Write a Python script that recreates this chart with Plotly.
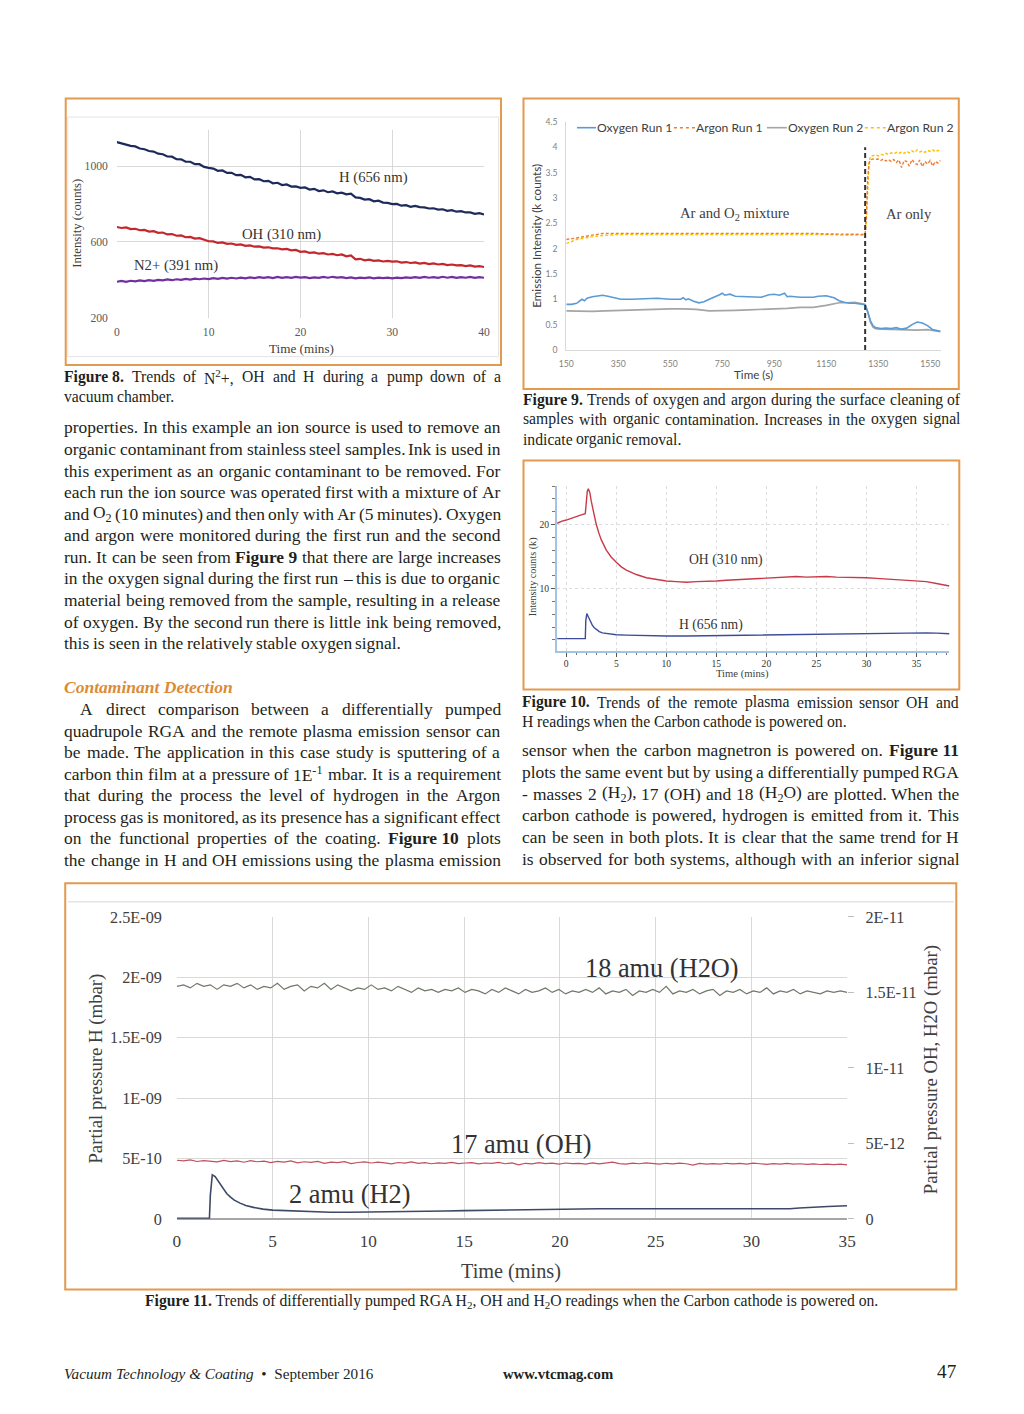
import re
import plotly.graph_objects as go

# Page geometry: the figure sits inside the default 8px body margin; the photographed page
# is mapped to the 1024x1414 picture with a small shrink, which the helpers below undo.
OFF = 8
W, H = 1024 - 2 * OFF, 1414 - 2 * OFF
KX, KY = 1024 / 1040, 1414 / 1430
FS = 2 / (KX + KY)
def X(t): return (t / KX - 2 * OFF) / W
def Y(t): return 1 - (t / KY - 2 * OFF) / H
def fs(s): return s * FS

SERIF = "Liberation Serif"
SANS = "Lato"
INK = "#231f20"
ORANGE = "#e39a4e"

# ---------------- Figure 8 data (pump down) ----------------
fig8_time = [i * 0.5 for i in range(81)]
fig8_H = [1128,1121,1118,1108,1105,1094,1090,1081,1078,1067,1064,1052,1051,1038,1037,1024,1024,1011,1011,997,992,
          988,976,978,965,966,953,955,942,944,931,932,921,923,910,913,901,904,893,894,886,
          888,877,881,869,873,863,867,857,861,852,856,836,833,824,826,815,818,808,807,800,
          801,792,795,786,791,784,783,777,778,771,773,765,768,760,763,756,756,749,752,745]
fig8_OH = [679,674,677,668,670,662,664,655,657,648,650,640,642,633,635,625,627,618,620,611,604,
           603,595,598,590,592,585,587,580,582,575,577,570,572,566,567,561,563,556,558,548,
           550,542,545,538,541,534,537,530,534,524,529,508,511,503,507,500,503,497,500,496,
           498,491,494,489,492,486,489,483,487,481,484,478,481,476,478,473,476,470,472,468]
fig8_N2 = [390,394,389,395,392,397,393,398,395,400,397,402,398,403,400,405,401,406,403,407,404,
           409,405,410,406,411,407,412,408,413,409,414,410,414,409,415,410,414,410,415,412,
           414,409,413,410,415,411,416,412,414,409,413,408,412,409,413,408,412,409,412,408,
           412,409,413,410,414,410,415,411,414,410,416,411,415,410,414,411,415,410,414,411]
fig8_xticks = [0, 10, 20, 30, 40]
fig8_yticks = [200, 600, 1000]

# ---------------- Figure 9 data (oxygen / argon) ----------------
fig9_ar_time = [150,170,190,210,230,250,270,290,320,350,400,450,500,550,600,650,700,750,800,850,
                900,950,1000,1050,1100,1150,1200,1250,1300,1305,1310,1315,1320,1330,1340,1350,1360,1370,1380,1390,
                1400,1410,1420,1430,1440,1450,1460,1470,1480,1490,1500,1510,1520,1530,1540,1550,1560,1570,1580,1590]
fig9_argon1 = [2.18,2.19,2.21,2.23,2.25,2.27,2.29,2.3,2.3,2.3,2.3,2.31,2.3,2.31,2.31,2.3,2.3,2.31,2.3,2.3,
               2.31,2.3,2.31,2.3,2.3,2.29,2.29,2.28,2.28,2.7,3.4,3.68,3.75,3.77,3.76,3.77,3.74,3.77,3.73,3.76,
               3.72,3.76,3.7,3.75,3.6,3.74,3.72,3.63,3.76,3.69,3.66,3.75,3.62,3.72,3.67,3.74,3.63,3.72,3.69,3.74]
fig9_argon2 = [2.1,2.14,2.18,2.2,2.22,2.24,2.25,2.26,2.27,2.28,2.28,2.28,2.28,2.28,2.28,2.28,2.28,2.29,2.28,2.28,
               2.29,2.28,2.28,2.28,2.28,2.28,2.27,2.27,2.27,2.6,3.3,3.7,3.82,3.84,3.85,3.83,3.86,3.85,3.88,3.86,
               3.89,3.87,3.9,3.88,3.91,3.88,3.92,3.89,3.93,3.9,3.95,3.91,3.93,3.9,3.94,3.92,3.95,3.91,3.94,3.92]
fig9_o1_time = [150,170,190,200,210,220,230,250,270,290,310,330,360,400,450,500,550,590,600,610,
                620,640,660,680,700,720,740,750,760,780,800,850,900,930,950,970,990,1000,1010,1050,
                1100,1120,1150,1180,1200,1220,1240,1260,1280,1300,1310,1320,1330,1340,1360,1380,1400,1420,1440,1460,
                1480,1500,1520,1540,1560,1580,1590]
fig9_oxygen1 = [0.9,0.9,0.92,0.96,1.0,0.97,1.02,1.05,1.07,1.08,1.06,1.03,1.0,1.0,1.01,1.02,1.0,1.0,1.03,0.99,
                1.01,0.96,0.93,0.95,1.0,1.04,1.09,1.12,1.08,1.1,1.06,1.05,1.04,1.09,1.1,1.08,1.12,1.05,1.06,1.04,
                1.04,1.06,1.07,1.03,0.97,0.94,0.92,0.92,0.9,0.89,0.75,0.58,0.48,0.44,0.42,0.43,0.42,0.44,0.41,0.43,
                0.5,0.55,0.53,0.48,0.40,0.38,0.37]
fig9_o2_time = [150,200,250,300,350,400,450,500,550,600,650,700,750,800,850,900,950,1000,1050,1100,
                1150,1180,1200,1230,1260,1280,1300,1310,1320,1330,1340,1360,1400,1450,1500,1540,1560,1590]
fig9_oxygen2 = [0.77,0.76,0.76,0.77,0.78,0.79,0.8,0.81,0.81,0.81,0.8,0.77,0.77,0.78,0.79,0.8,0.8,0.82,0.84,0.84,
                0.88,0.91,0.93,0.93,0.94,0.92,0.9,0.75,0.55,0.45,0.42,0.41,0.4,0.39,0.39,0.4,0.38,0.36]
fig9_switch_time = [1300, 1300]
fig9_switch_level = [0, 4.0]
fig9_xticks = [150, 350, 550, 750, 950, 1150, 1350, 1550]
fig9_yticks = [0, 0.5, 1, 1.5, 2, 2.5, 3, 3.5, 4, 4.5]
fig9_series = ["Oxygen Run 1", "Argon Run 1", "Oxygen Run 2", "Argon Run 2"]

# ---------------- Figure 10 data (plasma emission sensor) ----------------
fig10_oh_time = [-0.9,-0.5,0,0.5,1,1.5,1.9,2.0,2.1,2.2,2.35,2.5,2.75,3,3.25,3.5,4,4.5,5,5.5,6,6.5,7,
                 8,9,10,11,12,13,14,15,16,17,18,19,20,21,22,23,24,25,26,27,28,29,30,31,32,33,34,35,36,37,38.3]
fig10_oh = [20.2,20.5,20.7,21.0,21.2,21.5,21.7,23.5,25.2,25.6,25.0,23.6,21.6,20.0,18.7,17.6,16.0,14.9,14.1,13.4,12.9,12.5,12.2,
            11.7,11.4,11.2,11.1,11.0,11.1,11.1,11.2,11.3,11.4,11.5,11.6,11.6,11.7,11.8,11.9,11.8,11.9,11.9,11.8,11.8,11.7,
            11.7,11.6,11.5,11.4,11.4,11.3,11.1,10.8,10.4]
fig10_h_time = [-0.9,0,1,1.9,1.95,2.05,2.2,2.4,2.6,2.8,3,3.3,3.6,4,4.5,5,6,7,8,9,10,
                12,14,16,18,20,22,24,26,28,30,32,34,35,36,37,38.3]
fig10_h = [2.2,2.2,2.2,2.2,5.0,6.1,5.6,4.9,4.3,3.9,3.6,3.3,3.1,3.0,2.9,2.8,2.75,2.7,2.65,2.6,2.6,
           2.6,2.65,2.7,2.75,2.8,2.8,2.85,2.9,2.95,3.0,3.0,3.1,3.15,3.1,3.05,2.95]
fig10_xticks = [0, 5, 10, 15, 20, 25, 30, 35]
fig10_yticks = [10, 20]

# ---------------- Figure 11 data (RGA partial pressures) ----------------
fig11_time_dense = [i * 0.35 for i in range(101)]
fig11_h2o_e11 = [1.54,1.55,1.53,1.56,1.54,1.55,1.52,1.55,1.54,1.56,1.53,1.55,1.52,1.54,1.53,1.56,1.52,1.54,1.55,1.51,
                 1.54,1.53,1.56,1.52,1.55,1.53,1.51,1.53,1.52,1.55,1.52,1.53,1.51,1.54,1.52,1.50,1.53,1.51,1.52,1.50,
                 1.52,1.51,1.53,1.50,1.52,1.51,1.49,1.52,1.50,1.53,1.51,1.49,1.52,1.50,1.51,1.53,1.50,1.52,1.49,1.51,
                 1.50,1.52,1.50,1.53,1.49,1.51,1.50,1.52,1.48,1.51,1.50,1.52,1.50,1.54,1.49,1.51,1.50,1.52,1.49,1.51,
                 1.52,1.48,1.51,1.50,1.52,1.49,1.51,1.50,1.53,1.49,1.51,1.50,1.52,1.49,1.51,1.50,1.49,1.51,1.50,1.51,1.50]
fig11_oh_e12 = [3.88,3.84,3.9,3.8,3.86,3.82,3.78,3.87,3.79,3.84,3.75,3.85,3.78,3.82,3.72,3.8,3.76,3.84,3.71,3.78,
                3.74,3.8,3.68,3.76,3.72,3.79,3.66,3.73,3.77,3.7,3.75,3.71,3.64,3.73,3.69,3.77,3.68,3.72,3.65,3.71,
                3.68,3.74,3.66,3.7,3.72,3.64,3.7,3.67,3.74,3.65,3.7,3.58,3.68,3.64,3.72,3.66,3.69,3.63,3.7,3.66,
                3.68,3.63,3.71,3.64,3.68,3.76,3.66,3.63,3.69,3.65,3.71,3.67,3.62,3.68,3.64,3.69,3.65,3.56,3.67,3.63,
                3.66,3.62,3.68,3.64,3.67,3.63,3.69,3.65,3.61,3.66,3.63,3.67,3.62,3.65,3.61,3.64,3.6,3.63,3.59,3.62,3.58]
fig11_h2_time = [0,1,1.7,1.75,1.85,2.0,2.2,2.4,2.6,2.8,3,3.3,3.6,4,4.5,5,6,7,8,9,
                 10,12,14,15,16,17,18,19,20,22,24,26,28,30,32,32.5,33,34,35]
fig11_h2_e10 = [0.05,0.05,0.05,2.0,3.65,3.5,3.0,2.5,2.1,1.8,1.55,1.3,1.1,0.95,0.8,0.72,0.65,0.58,0.55,0.55,
                0.56,0.6,0.65,0.68,0.7,0.72,0.75,0.8,0.83,0.83,0.83,0.83,0.83,0.83,0.84,0.9,0.95,1.02,1.08]
fig11_xticks = [0, 5, 10, 15, 20, 25, 30, 35]
fig11_left_ticks = [0, 5e-10, 1e-9, 1.5e-9, 2e-9, 2.5e-9]
fig11_left_text = ["0", "5E-10", "1E-09", "1.5E-09", "2E-09", "2.5E-09"]
fig11_right_ticks = [0, 5e-12, 1e-11, 1.5e-11, 2e-11]
fig11_right_text = ["0", "5E-12", "1E-11", "1.5E-11", "2E-11"]

fig = go.Figure()

def line(x, y, xa, ya, color, width, dash=None, name=None):
    fig.add_trace(go.Scatter(x=x, y=y, xaxis=xa, yaxis=ya, mode="lines", name=name,
                             line=dict(color=color, width=width, dash=dash),
                             showlegend=False, hoverinfo="skip"))

# Figure 8 traces
line(fig8_time, fig8_N2, "x", "y", "#7030a0", 2.2)
line(fig8_time, fig8_OH, "x", "y", "#c4262e", 2.2)
line(fig8_time, fig8_H, "x", "y", "#1f2a5c", 2.2)

# Figure 9 traces
line(fig9_o2_time, fig9_oxygen2, "x2", "y2", "#a5a5a5", 1.6, name=fig9_series[2])
line(fig9_o1_time, fig9_oxygen1, "x2", "y2", "#5b9bd5", 1.6, name=fig9_series[0])
line(fig9_ar_time, fig9_argon2, "x2", "y2", "#ffc000", 1.4, "3px,2px", name=fig9_series[3])
line(fig9_ar_time, fig9_argon1, "x2", "y2", "#ed7d31", 1.4, "3px,2px", name=fig9_series[1])
line(fig9_switch_time, fig9_switch_level, "x2", "y2", "#333333", 2, "5px,3px")

# Figure 10 traces
line(fig10_oh_time, fig10_oh, "x3", "y3", "#c93a48", 1.4)
line(fig10_h_time, fig10_h, "x3", "y3", "#3b4d99", 1.4)

# Figure 11 traces
line(fig11_time_dense, [v * 1e-11 for v in fig11_h2o_e11], "x4", "y5", "#6e7868", 1.2)
line(fig11_time_dense, [v * 1e-12 for v in fig11_oh_e12], "x4", "y5", "#c0505e", 1.2)
line(fig11_h2_time, [v * 1e-10 for v in fig11_h2_e10], "x4", "y4", "#3d4a66", 1.6)

GRID = "#d9d9d9"
fig.update_layout(
    width=W, height=H, margin=dict(l=0, r=0, t=0, b=0),
    paper_bgcolor="white", plot_bgcolor="rgba(0,0,0,0)", showlegend=False,
    xaxis=dict(domain=[X(117.7), X(485)], range=[0, 40], tickvals=fig8_xticks, anchor="y",
               showgrid=True, gridcolor=GRID, zeroline=False, showline=False, ticks="",
               tickfont=dict(family=SERIF, size=fs(11.5), color="#595959"), ticklabelstandoff=6),
    yaxis=dict(domain=[Y(318), Y(130)], range=[200, 1192], tickvals=fig8_yticks, anchor="x",
               showgrid=True, gridcolor=GRID, zeroline=False, showline=False, ticks="",
               tickfont=dict(family=SERIF, size=fs(11.5), color="#595959"), ticklabelstandoff=8),
    xaxis2=dict(domain=[X(567.3), X(942)], range=[150, 1591], tickvals=fig9_xticks, anchor="y2",
                showgrid=False, zeroline=False, showline=True, linecolor=GRID, ticks="",
                tickfont=dict(family=SANS, size=fs(8.5), color="#7f7f7f"), ticklabelstandoff=6),
    yaxis2=dict(domain=[Y(350.3), Y(122)], range=[0, 4.5], tickvals=fig9_yticks, anchor="x2",
                showgrid=False, zeroline=False, showline=True, linecolor=GRID, ticks="",
                tickfont=dict(family=SANS, size=fs(8.5), color="#7f7f7f"), ticklabelstandoff=6),
    xaxis3=dict(domain=[X(558), X(950.7)], range=[-0.93, 38.3], tickvals=fig10_xticks, anchor="y3",
                showgrid=True, gridcolor="#dddddd", griddash="dot", zeroline=False,
                showline=True, linecolor="#a4c2e4", linewidth=2,
                ticks="outside", ticklen=4, tickcolor="#555555",
                minor=dict(dtick=1, ticks="outside", ticklen=2.5, tickcolor="#777777", showgrid=False),
                tickfont=dict(family=SERIF, size=fs(9.5), color="#333333"), ticklabelstandoff=-1),
    yaxis3=dict(domain=[Y(651.7), Y(486.7)], range=[0.3, 26], tickvals=fig10_yticks, anchor="x3",
                showgrid=True, gridcolor="#dddddd", griddash="dot", zeroline=False,
                showline=True, linecolor="#a4c2e4", linewidth=2,
                ticks="outside", ticklen=4, tickcolor="#555555",
                minor=dict(dtick=2, ticks="outside", ticklen=2.5, tickcolor="#777777", showgrid=False),
                tickfont=dict(family=SERIF, size=fs(9.5), color="#333333")),
    xaxis4=dict(domain=[X(177.7), X(848.3)], range=[0, 35], tickvals=fig11_xticks, anchor="y4",
                showgrid=True, gridcolor=GRID, zeroline=False, showline=False, ticks="",
                tickfont=dict(family=SERIF, size=fs(17), color="#404040"), ticklabelstandoff=10),
    yaxis4=dict(domain=[Y(1220.7), Y(918.3)], range=[0, 2.5e-9], tickvals=fig11_left_ticks,
                ticktext=fig11_left_text, anchor="x4", showgrid=True, gridcolor=GRID,
                zeroline=True, zerolinecolor="#a6a6a6", zerolinewidth=1.5, showline=False, ticks="",
                tickfont=dict(family=SERIF, size=fs(16), color="#404040"), ticklabelstandoff=14),
    yaxis5=dict(range=[0, 2e-11], tickvals=fig11_right_ticks, ticktext=fig11_right_text,
                overlaying="y4", side="right", anchor="x4", showgrid=False, zeroline=False,
                showline=False, ticks="outside", ticklen=6, tickcolor="#bfbfbf",
                tickfont=dict(family=SERIF, size=fs(16), color="#404040"), ticklabelstandoff=8),
)

# ---------------- frames ----------------
shapes = []
def rect(x0, y0, x1, y1, color, width):
    shapes.append(dict(type="rect", xref="paper", yref="paper", x0=X(x0), x1=X(x1), y0=Y(y1), y1=Y(y0),
                       line=dict(color=color, width=width), fillcolor="rgba(0,0,0,0)", layer="above"))
def hline(x0, x1, y, color, width=1, dash=None):
    shapes.append(dict(type="line", xref="paper", yref="paper", x0=X(x0), x1=X(x1), y0=Y(y), y1=Y(y),
                       line=dict(color=color, width=width, dash=dash)))

rect(68.5, 117, 499.5, 357, "#e4e4e4", 1)
hline(68.5, 955, 903, "#e4e4e4", 1.5)
rect(66.5, 98.5, 502, 365.5, ORANGE, 2)
rect(524.5, 98.5, 960, 389.5, ORANGE, 2)
rect(524.5, 461, 960.5, 690.5, ORANGE, 2)
rect(66, 884.5, 957.5, 1291.5, ORANGE, 2)

annots = []
def note(text, x, y, size, family=SERIF, color="#404040", xanchor="center", angle=0):
    annots.append(dict(text=text, x=X(x), y=Y(y), xref="paper", yref="paper", showarrow=False,
                       xanchor=xanchor, yanchor="middle", textangle=angle, borderpad=0, borderwidth=0,
                       font=dict(family=family, size=fs(size), color=color)))

# Figure 8 texts
note("Intensity (counts)", 77, 223.7, 12.5, angle=-90)
note("Time (mins)", 302, 349, 13)
note("H (656 nm)", 374, 178, 14.5, color="#333333")
note("OH (310 nm)", 282, 234.7, 14.5, color="#333333")
note("N2+ (391 nm)", 177, 266, 14.5, color="#333333")

# Figure 9 texts + legend
note("Emission Intensity (k counts)", 538, 236, 11.5, family=SANS, angle=-90)
note("Time (s)", 754.7, 375, 11.5, family=SANS)
note("Ar and O<sub>2</sub> mixture", 736, 213.7, 14.5)
note("Ar only", 910, 213.7, 14.5)
legend_cols = ["#5b9bd5", "#ed7d31", "#a5a5a5", "#ffc000"]
legend_dash = [None, "dot", None, "dot"]
legend_sample = [(578, 597), (675, 696), (768, 788), (866, 887)]
for name, col, dsh, (a, b) in zip(fig9_series, legend_cols, legend_dash, legend_sample):
    hline(a, b, 127.7, col, 1.6, dsh)
    note(name, b + 1.5, 127.7, 12, family=SANS, xanchor="left")

# Figure 10 texts
note("Intensity counts (k)", 534, 577, 10, angle=-90)
note("Time (mins)", 744, 675, 10.5)
note("OH (310 nm)", 727, 561, 13.5, color="#333333")
note("H (656 nm)", 712, 626, 13.5, color="#333333")

# Figure 11 texts
note("Partial pressure H (mbar)", 97, 1070, 18.5, angle=-90)
note("Partial pressure OH, H2O (mbar)", 933, 1071, 18.5, angle=-90)
note("Time (mins)", 512, 1273, 20)
note("18 amu (H2O)", 663, 970, 26, color="#333333")
note("17 amu (OH)", 522, 1146.7, 26, color="#333333")
note("2 amu (H2)", 350, 1196.7, 26, color="#333333")

# ---------------- page text (justified word by word) ----------------
TIMES = {' ': 250, 'a': 444, 'b': 500, 'c': 444, 'd': 500, 'e': 444, 'f': 333, 'g': 500, 'h': 500, 'i': 278,
         'j': 278, 'k': 500, 'l': 278, 'm': 778, 'n': 500, 'o': 500, 'p': 500, 'q': 500, 'r': 333, 's': 389,
         't': 278, 'u': 500, 'v': 500, 'w': 722, 'x': 500, 'y': 500, 'z': 444,
         'A': 722, 'B': 667, 'C': 667, 'D': 722, 'E': 611, 'F': 556, 'G': 722, 'H': 722, 'I': 333, 'J': 389,
         'K': 722, 'L': 611, 'M': 889, 'N': 722, 'O': 722, 'P': 556, 'Q': 722, 'R': 667, 'S': 556, 'T': 611,
         'U': 722, 'V': 722, 'W': 944, 'X': 722, 'Y': 722, 'Z': 611,
         '.': 250, ',': 250, '(': 333, ')': 333, '-': 333, '–': 500, ':': 278, ';': 278, '+': 564}
BOLD = {'a': 500, 'b': 556, 'd': 556, 'h': 556, 'k': 556, 'm': 833, 'n': 556, 'p': 556, 'q': 556, 'r': 444,
        'u': 556, 'F': 611, 'G': 778, 'I': 389}

def text_width(s, size):
    bold = False
    small = False
    w = 0.0
    for tok in re.split(r'(<[^>]+>)', s):
        if tok.startswith('<'):
            t = tok.lower()
            if t == '<b>': bold = True
            elif t == '</b>': bold = False
            elif t in ('<sub>', '<sup>'): small = True
            elif t in ('</sub>', '</sup>'): small = False
            continue
        for ch in tok:
            cw = TIMES.get(ch, 500)
            if bold and ch in BOLD:
                cw = BOLD[ch]
            w += cw * (0.7 if small else 1.0)
    return w * size / 1000.0

def para(lines, x0, x1, y0, step, size, last_justified=False, first_indent=0):
    for i, ln in enumerate(lines):
        words = ln.split(' ')
        xs = x0 + (first_indent if i == 0 else 0)
        widths = [text_width(w.replace('~', ' '), size) for w in words]
        justify = (i < len(lines) - 1) or last_justified
        if justify and len(words) > 1:
            gap = (x1 - xs - sum(widths)) / (len(words) - 1)
        else:
            gap = 0.25 * size
        x = xs
        for w, wd in zip(words, widths):
            note(w.replace('~', ' '), x, y0 + i * step, size, color=INK, xanchor="left")
            x += wd + gap

left_p1 = [
    "properties. In this example an ion source is used to remove an",
    "organic contaminant from stainless steel samples. Ink is used in",
    "this experiment as an organic contaminant to be removed. For",
    "each run the ion source was operated first with a mixture of Ar",
    "and O<sub>2</sub> (10 minutes) and then only with Ar (5 minutes). Oxygen",
    "and argon were monitored during the first run and the second",
    "run. It can be seen from <b>Figure~9</b> that there are large increases",
    "in the oxygen signal during the first run – this is due to organic",
    "material being removed from the sample, resulting in a release",
    "of oxygen. By the second run there is little ink being removed,",
    "this is seen in the relatively stable oxygen signal.",
]
left_p2 = [
    "A direct comparison between a differentially pumped",
    "quadrupole RGA and the remote plasma emission sensor can",
    "be made. The application in this case study is sputtering of a",
    "carbon thin film at a pressure of 1E<sup>-1</sup> mbar. It is a requirement",
    "that during the process the level of hydrogen in the Argon",
    "process gas is monitored, as its presence has a significant effect",
    "on the functional properties of the coating. <b>Figure~10</b> plots",
    "the change in H and OH emissions using the plasma emission",
]
right_p = [
    "sensor when the carbon magnetron is powered on. <b>Figure~11</b>",
    "plots the same event but by using a differentially pumped RGA",
    "- masses 2 (H<sub>2</sub>), 17 (OH) and 18 (H<sub>2</sub>O) are plotted. When the",
    "carbon cathode is powered, hydrogen is emitted from it. This",
    "can be seen in both plots. It is clear that the same trend for H",
    "is observed for both systems, although with an inferior signal",
]
cap8 = ["<b>Figure~8.</b> Trends of N<sup>2</sup>+, OH and H during a pump down of a",
        "vacuum chamber."]
cap9 = ["<b>Figure~9.</b> Trends of oxygen and argon during the surface cleaning of",
        "samples with organic contamination. Increases in the oxygen signal",
        "indicate organic removal."]
cap10 = ["<b>Figure~10.</b> Trends of the remote plasma emission sensor OH and",
         "H readings when the Carbon cathode is powered on."]

BODY = 17.2
para(left_p1, 65, 501, 428, 21.6, BODY)
para(left_p2, 65, 501, 710, 21.55, BODY, last_justified=True, first_indent=16)
para(right_p, 523, 960, 751.5, 21.7, BODY, last_justified=True)
para(cap8, 65, 502, 377, 20, 15.5)
para(cap9, 524, 961, 400, 20, 15.5)
para(cap10, 523, 960, 703, 20, 15.5)

note("<b><i>Contaminant Detection</i></b>", 65, 688, 17.3, color="#dd8a34", xanchor="left")
note("<b>Figure 11.</b> Trends of differentially pumped RGA H<sub>2</sub>, OH and H<sub>2</sub>O readings when the Carbon cathode is powered on.",
     512, 1304, 15.5, color=INK)
note("<i>Vacuum Technology &amp; Coating</i> &nbsp;•&nbsp; September 2016", 65, 1376, 15, color=INK, xanchor="left")
note("<b>www.vtcmag.com</b>", 559, 1376, 14.5, color=INK)
note("47", 958, 1374, 19, color=INK, xanchor="right")

fig.update_layout(shapes=shapes, annotations=annots)

fig.write_html("out.html", config={"displayModeBar": False})
